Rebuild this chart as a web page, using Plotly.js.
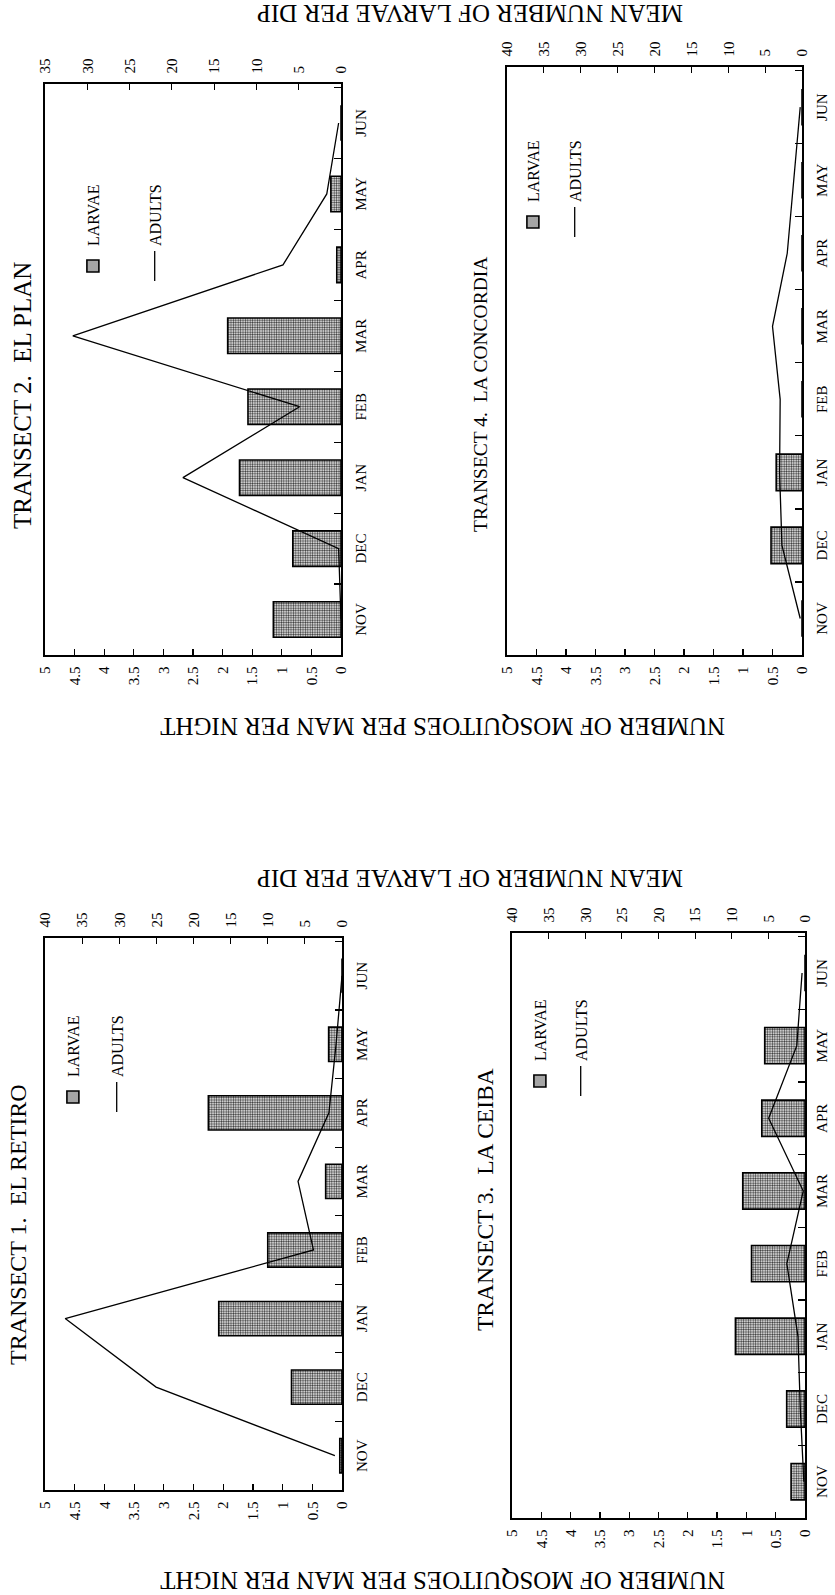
<!DOCTYPE html>
<html><head><meta charset="utf-8">
<script src="https://cdn.plot.ly/plotly-3.0.1.min.js"></script>
<style>
html,body{margin:0;padding:0;width:835px;height:1595px;overflow:hidden;background:#fff;}
#wrap{position:absolute;left:0;top:0;width:1595px;height:835px;transform-origin:0 0;transform:translateY(1595px) rotate(-90deg);}
#chart{width:1595px;height:835px;}
</style></head><body><div id="wrap"><div id="chart"></div></div>
<script>
// ---- data ----
const months = ['NOV','DEC','JAN','FEB','MAR','APR','MAY','JUN'];
const panelTitles = ['TRANSECT 1.\u00a0 EL RETIRO','TRANSECT 2.\u00a0 EL PLAN','TRANSECT 3.\u00a0 LA CEIBA','TRANSECT 4.\u00a0 LA CONCORDIA'];
const t1Larvae = [0.3, 6.8, 16.6, 10.0, 2.2, 18.0, 1.8, 0];
const t1Adults = [0.12, 3.13, 4.66, 0.48, 0.74, 0.22, 0.1, 0.0];
const t2Larvae = [8.0, 5.7, 12.0, 11.0, 13.4, 0.5, 1.2, 0];
const t2Adults = [0, 0.04, 2.67, 0.7, 4.53, 0.98, 0.24, 0.04];
const t3Larvae = [1.9, 2.5, 9.5, 7.3, 8.5, 5.9, 5.5, 0];
const t3Adults = [0.02, 0.08, 0.12, 0.31, 0.03, 0.62, 0.14, 0.05];
const t4Larvae = [0, 4.2, 3.5, 0, 0, 0, 0, 0];
const t4Adults = [0.03, 0.34, 0.38, 0.37, 0.5, 0.25, 0.14, 0.03];
const larvaeMax = [40, 35, 40, 40];
const mosquitoMax = 5;
const legendNames = ['LARVAE','ADULTS'];
const mosquitoTitle = 'NUMBER OF MOSQUITOES PER MAN PER NIGHT';
const larvaeTitle = 'MEAN NUMBER OF LARVAE PER DIP';

const larvaeSeries = [t1Larvae, t2Larvae, t3Larvae, t4Larvae];
const adultSeries = [t1Adults, t2Adults, t3Adults, t4Adults];

// ---- layout geometry (landscape page, rotated by CSS) ----
const W = 1595, H = 835;
const FONT = 'Liberation Serif, Times New Roman, serif';
const frames = [ // [left, right, top, bottom] in px of the landscape page
  [105, 657, 45, 342],
  [940, 1511, 45, 341],
  [77, 662, 512, 805],
  [940, 1528, 507, 802]
];
const monthStandoff = [5, 5, 2, 5];
const titlePos = [[370, 18, 24], [1199, 23, 25], [395, 485, 23.5], [1200, 480, 19.5]];
const legendPos = [[478, 56, 20], [1309, 76, 38], [494, 523, 17], [1353, 516, 18]];

const px = v => v / W;
const py = v => 1 - v / H;

const traces = [];
const layout = {
  width: W, height: H,
  margin: {l: 0, r: 0, t: 0, b: 0},
  paper_bgcolor: '#fff', plot_bgcolor: 'rgba(0,0,0,0)',
  font: {family: FONT, color: '#000', size: 15},
  showlegend: true,
  annotations: []
};

for (let i = 0; i < 4; i++) {
  const xn = i === 0 ? '' : String(i + 1);
  const yL = 2 * i + 1, yM = 2 * i + 2;
  const yLn = yL === 1 ? '' : String(yL);
  const legName = i === 0 ? 'legend' : 'legend' + (i + 1);
  const f = frames[i];

  traces.push({
    type: 'bar', x: months, y: larvaeSeries[i],
    xaxis: 'x' + xn, yaxis: 'y' + yLn,
    width: 0.5,
    name: legendNames[0], legend: legName, legendgroup: 'L' + i,
    marker: {
      color: '#ffffff',
      pattern: {shape: '.', fgcolor: '#333333', bgcolor: '#ffffff', size: 2.4, solidity: 0.5},
      line: {color: '#000', width: 1.6}
    }
  });
  traces.push({
    type: 'scatter', mode: 'lines', x: months, y: adultSeries[i],
    xaxis: 'x' + xn, yaxis: 'y' + yM,
    name: legendNames[1], legend: legName, legendgroup: 'A' + i,
    line: {color: '#000', width: 1.3}
  });

  layout['xaxis' + xn] = {
    domain: [px(f[0]), px(f[1])], anchor: 'y' + yLn,
    type: 'category', categoryorder: 'array', categoryarray: months,
    range: [-0.5, 7.55],
    showline: true, mirror: true, linecolor: '#000', linewidth: 1.6,
    ticks: 'inside', tickson: 'boundaries', ticklen: 7, tickcolor: '#000', tickwidth: 1.2,
    tickfont: {size: 15, family: FONT}, ticklabelstandoff: monthStandoff[i],
    showgrid: false, zeroline: false
  };
  layout['yaxis' + yLn] = {
    domain: [py(f[3]), py(f[2])], anchor: 'x' + xn, side: 'right',
    range: [0, larvaeMax[i]], tick0: 0, dtick: 5,
    showline: true, linecolor: '#000', linewidth: 1.6,
    ticks: 'inside', ticklen: 6, tickcolor: '#000', tickwidth: 1.2,
    tickfont: {size: 15, family: FONT}, ticklabelstandoff: 6,
    showgrid: false, zeroline: false
  };
  layout['yaxis' + yM] = {
    overlaying: 'y' + yLn, anchor: 'x' + xn, side: 'left',
    range: [0, mosquitoMax], tick0: 0, dtick: 0.5,
    showline: true, linecolor: '#000', linewidth: 1.6,
    ticks: 'inside', ticklen: 6, tickcolor: '#000', tickwidth: 1.2,
    tickfont: {size: 15, family: FONT}, ticklabelstandoff: 7,
    showgrid: false, zeroline: false
  };
  const lp = legendPos[i];
  layout[legName] = {
    x: px(lp[0]), y: py(lp[1]), xanchor: 'left', yanchor: 'top',
    bgcolor: 'rgba(0,0,0,0)', borderwidth: 0,
    font: {size: 16, family: FONT, color: '#000'},
    traceorder: 'grouped', tracegroupgap: lp[2], itemwidth: 30
  };
  const tp = titlePos[i];
  layout.annotations.push({
    text: panelTitles[i], xref: 'paper', yref: 'paper',
    x: px(tp[0]), y: py(tp[1]), xanchor: 'center', yanchor: 'middle',
    showarrow: false, font: {size: tp[2], family: FONT, color: '#000'}
  });
}

const axisTitles = [
  [mosquitoTitle, 14, 443], [mosquitoTitle, 868, 443],
  [larvaeTitle, 716, 470], [larvaeTitle, 1581, 470]
];
axisTitles.forEach(a => layout.annotations.push({
  text: a[0], xref: 'paper', yref: 'paper', x: px(a[1]), y: py(a[2]),
  xanchor: 'center', yanchor: 'middle', textangle: -90, showarrow: false,
  font: {size: 25, family: FONT, color: '#000'}
}));

Plotly.newPlot('chart', traces, layout, {staticPlot: true, displayModeBar: false});
</script>
</body></html>
